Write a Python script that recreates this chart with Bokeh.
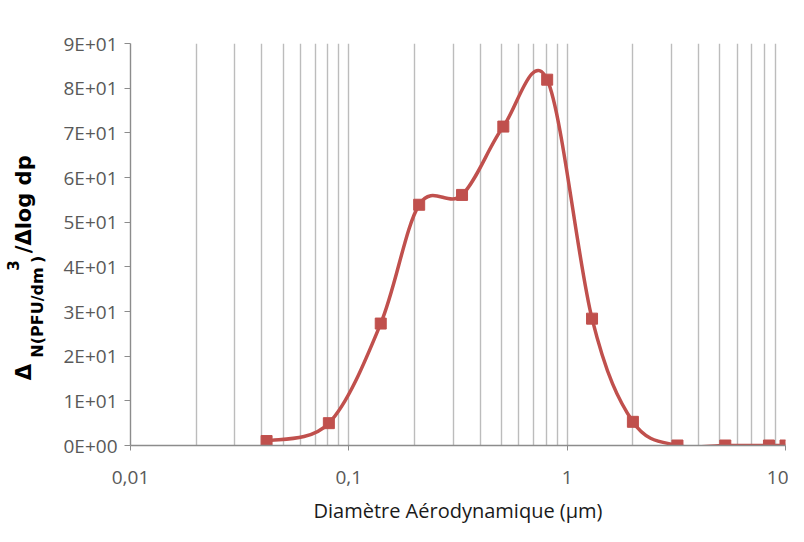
import math
from bokeh.plotting import figure
from bokeh.layouts import row
from bokeh.models import FixedTicker, ColumnDataSource, Range1d
from bokeh.core.properties import value
from bokeh.embed import file_html
from bokeh.resources import INLINE

# ---- data ----
diameter_um = [0.042, 0.081, 0.14, 0.21, 0.33, 0.51, 0.81, 1.3, 2.0, 3.2, 5.3, 8.4, 10.0]
dN_dlogdp = [1.0, 5.0, 27.3, 53.9, 56.1, 71.4, 81.9, 28.4, 5.3, 0.0, 0.0, 0.0, 0.0]

y_ticks = [0, 10, 20, 30, 40, 50, 60, 70, 80, 90]
y_tick_labels = ["0E+00", "1E+01", "2E+01", "3E+01", "4E+01", "5E+01",
                 "6E+01", "7E+01", "8E+01", "9E+01"]
x_ticks = [0.01, 0.1, 1, 10]
x_tick_labels = ["0,01", "0,1", "1", "10"]
x_grid = [m * d for d in (0.01, 0.1, 1) for m in range(2, 10)] + [0.1, 1, 10]

x_title = "Diamètre Aérodynamique (µm)"
# y title pieces: big / subscript / superscript
y_title_big = ["Δ", "/Δlog dp"]
y_title_sub = ["N(PFU/dm", ")"]
y_title_sup = ["3"]

RED = "#C0504D"
FONT = "Open Sans"
TFONT = "DejaVu Sans"
H = 526
LW = 60                 # width of the strip holding the y title
FRAME_TOP, FRAME_BOTTOM = 43, 455   # frame edges (px) of the chart

# ---- strip with the y-axis title (its frame is aligned with the chart's) ----
t = figure(width=LW, height=H, x_range=Range1d(0, LW),
           y_range=Range1d(H - FRAME_BOTTOM, H - FRAME_TOP),
           output_backend="svg", toolbar_location=None,
           x_axis_location=None, y_axis_location=None,
           min_border_left=0, min_border_right=0,
           min_border_top=FRAME_TOP, min_border_bottom=H - FRAME_BOTTOM)
t.outline_line_color = None
t.grid.visible = False
ang = math.pi / 2
t.text(x=[23, 23], y=[H - 388, H - 258], text=y_title_big, angle=ang,
       text_font=value(TFONT), text_font_style="bold", text_font_size="21px",
       text_color="#000000", text_align="left", text_baseline="alphabetic")
t.text(x=[37, 37], y=[H - 365, H - 268], text=y_title_sub, angle=ang,
       text_font=value(TFONT), text_font_style="bold", text_font_size="16px",
       text_color="#000000", text_align="left", text_baseline="alphabetic")
t.text(x=[12], y=[H - 276], text=y_title_sup, angle=ang,
       text_font=value(TFONT), text_font_style="bold", text_font_size="15px",
       text_color="#000000", text_align="left", text_baseline="alphabetic")

# ---- main chart ----
p = figure(width=788 - LW, height=H, x_axis_type="log",
           x_range=Range1d(0.01, 10), y_range=Range1d(0, 90),
           output_backend="svg", toolbar_location=None,
           min_border_left=127 - LW, min_border_right=3,
           min_border_top=FRAME_TOP, min_border_bottom=H - FRAME_BOTTOM)
p.outline_line_color = None
p.background_fill_color = "white"

# grids
p.ygrid.grid_line_color = None
p.xgrid.ticker = FixedTicker(ticks=x_grid)
p.xgrid.grid_line_color = "#bcbcbc"
p.xgrid.grid_line_width = 1.4

# y axis
p.yaxis.ticker = FixedTicker(ticks=y_ticks)
p.yaxis.major_label_overrides = {t_: l for t_, l in zip(y_ticks, y_tick_labels)}
p.yaxis.minor_tick_line_color = None
p.yaxis.major_tick_out = 6
p.yaxis.major_tick_in = 0
p.yaxis.axis_line_color = "#8c8c8c"
p.yaxis.axis_line_width = 1.4
p.yaxis.major_tick_line_color = "#8c8c8c"
p.yaxis.major_label_text_color = "#595959"
p.yaxis.major_label_text_font = FONT
p.yaxis.major_label_text_font_size = "19px"
p.yaxis.major_label_standoff = 7

# x axis
p.xaxis.ticker = FixedTicker(ticks=x_ticks)
p.xaxis.major_label_overrides = {t_: l for t_, l in zip(x_ticks, x_tick_labels)}
p.xaxis.minor_tick_line_color = None
p.xaxis.major_tick_out = 5
p.xaxis.major_tick_in = 0
p.xaxis.axis_line_color = "#8c8c8c"
p.xaxis.axis_line_width = 1.4
p.xaxis.major_tick_line_color = "#8c8c8c"
p.xaxis.major_label_text_color = "#595959"
p.xaxis.major_label_text_font = FONT
p.xaxis.major_label_text_font_size = "19px"
p.xaxis.major_label_standoff = 20
p.xaxis.axis_label = x_title
p.xaxis.axis_label_text_font = FONT
p.xaxis.axis_label_text_font_style = "normal"
p.xaxis.axis_label_text_font_size = "20px"
p.xaxis.axis_label_text_color = "#1a1a1a"
p.xaxis.axis_label_standoff = 10

# smoothed line (Excel-like cubic Bezier, control points in log-x space)
lx = [math.log10(v) for v in diameter_um]
ys = dN_dlogdp
n = len(lx)
seg = dict(x0=[], y0=[], x1=[], y1=[], cx0=[], cy0=[], cx1=[], cy1=[])
for i in range(n - 1):
    ip = max(i - 1, 0)
    inx = min(i + 2, n - 1)
    c1x = lx[i] + (lx[i + 1] - lx[ip]) / 6
    c1y = ys[i] + (ys[i + 1] - ys[ip]) / 6
    c2x = lx[i + 1] - (lx[inx] - lx[i]) / 6
    c2y = ys[i + 1] - (ys[inx] - ys[i]) / 6
    seg["x0"].append(diameter_um[i]); seg["y0"].append(ys[i])
    seg["x1"].append(diameter_um[i + 1]); seg["y1"].append(ys[i + 1])
    seg["cx0"].append(10 ** c1x); seg["cy0"].append(c1y)
    seg["cx1"].append(10 ** c2x); seg["cy1"].append(c2y)
p.bezier(x0="x0", y0="y0", x1="x1", y1="y1", cx0="cx0", cy0="cy0",
         cx1="cx1", cy1="cy1", source=ColumnDataSource(seg),
         line_color=RED, line_width=3.5)

p.scatter(diameter_um, dN_dlogdp, marker="square", size=11,
          fill_color=RED, line_color=RED)

layout = row(t, p, spacing=0)
open("out.html", "w").write(file_html(layout, INLINE))
